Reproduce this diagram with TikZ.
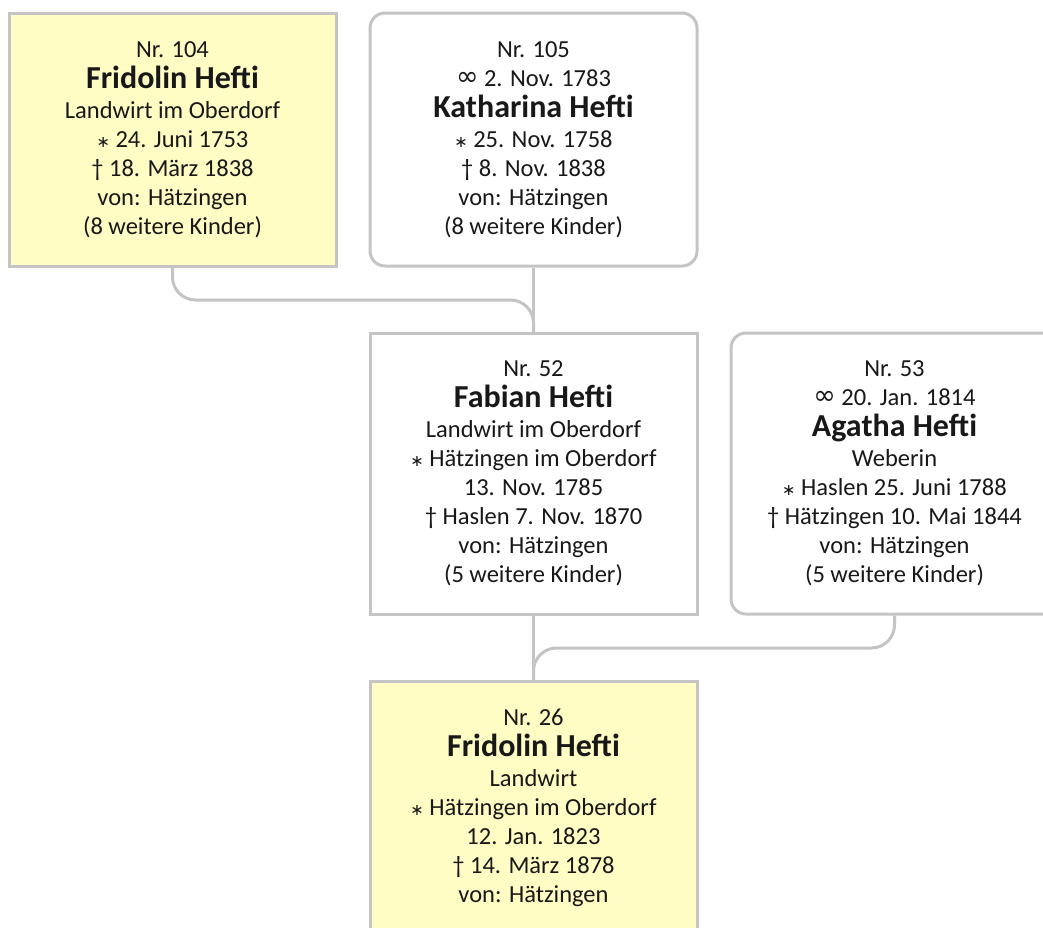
\documentclass[tikz,border=0pt]{standalone}
\usepackage{fontspec}
\setmainfont{Carlito}
\newfontfamily\symfont{DejaVu Sans}
\definecolor{boxline}{RGB}{196,196,196}
\definecolor{boxyellow}{RGB}{255,252,196}
\definecolor{ink}{RGB}{24,24,24}
% genealogical signs
\newcommand{\bornsign}{{\symfont\fontsize{16}{0}\selectfont ∗}}
\newcommand{\diedsign}{†}
\newcommand{\marsign}{{\symfont\fontsize{27}{0}\selectfont\raisebox{1pt}{∞}}}
\newcommand{\pname}[1]{{\fontsize{32}{0}\selectfont\bfseries #1}}
\tikzset{
  person/.style={draw=boxline, line width=3pt, minimum width=327pt,
    minimum height=253pt, inner sep=0pt, align=center, text=ink,
    font=\fontsize{24.5}{29}\selectfont},
  proband/.style={person, fill=boxyellow},
  spouse/.style={person, fill=white, rounded corners=15pt},
  link/.style={draw=boxline, line width=3pt, rounded corners=23pt}
}
\begin{document}
\begin{tikzpicture}[x=1pt,y=1pt]
  \useasboundingbox (0,0) rectangle (1043,-927);
  \clip (0,0) rectangle (1043,-927);

  % grandparents
  \node[proband] (p104) at (172.5,-139.5) {Nr. 104\\[2pt] \pname{Fridolin Hefti}\\[1pt]
    Landwirt im Oberdorf\\ \bornsign{} 24. Juni 1753\\ \diedsign{} 18. März 1838\\
    von: Hätzingen\\ (8 weitere Kinder)};
  \node[spouse] (p105) at (533.5,-139.5) {Nr. 105\\ \marsign{} 2. Nov. 1783\\[2pt]
    \pname{Katharina Hefti}\\[1pt] \bornsign{} 25. Nov. 1758\\ \diedsign{} 8. Nov. 1838\\
    von: Hätzingen\\ (8 weitere Kinder)};

  % parents
  \node[person, fill=white, minimum height=281pt] (p52) at (533.5,-473.5) {Nr. 52\\[2pt]
    \pname{Fabian Hefti}\\[1pt] Landwirt im Oberdorf\\ \bornsign{} Hätzingen im Oberdorf\\
    13. Nov. 1785\\ \diedsign{} Haslen 7. Nov. 1870\\ von: Hätzingen\\ (5 weitere Kinder)};
  \node[spouse, minimum height=281pt] (p53) at (894.5,-473.5) {Nr. 53\\
    \marsign{} 20. Jan. 1814\\[2pt] \pname{Agatha Hefti}\\[1pt] Weberin\\
    \bornsign{} Haslen 25. Juni 1788\\ \diedsign{} Hätzingen 10. Mai 1844\\
    von: Hätzingen\\ (5 weitere Kinder)};

  % child
  \node[proband] (p26) at (533.5,-807.5) {Nr. 26\\[2pt] \pname{Fridolin Hefti}\\[1pt]
    Landwirt\\ \bornsign{} Hätzingen im Oberdorf\\ 12. Jan. 1823\\
    \diedsign{} 14. März 1878\\ von: Hätzingen};

  % junction points of the descent lines
  \coordinate (jtop) at (533.5,-300);
  \coordinate (jbot) at (533.5,-648);

  \draw[link] (p104.south) |- (jtop) -- (p52.north);
  \draw[link] (p105.south) -- (p52.north);
  \draw[link] (p53.south) |- (jbot) -- (p26.north);
  \draw[link] (p52.south) -- (p26.north);
\end{tikzpicture}
\end{document}
